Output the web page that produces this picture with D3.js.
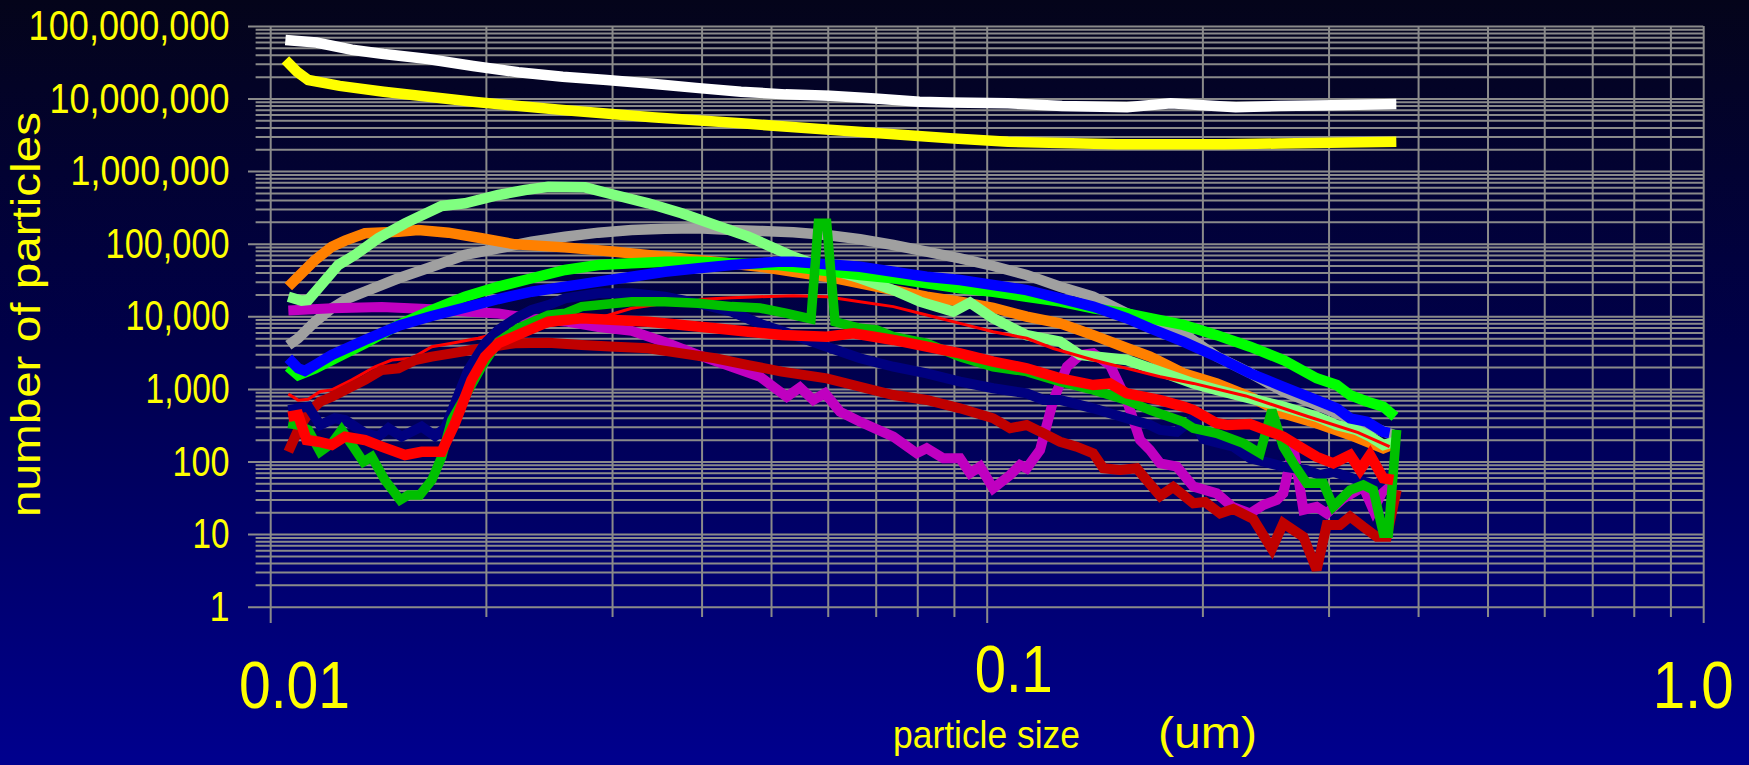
<!DOCTYPE html>
<html>
<head>
<meta charset="utf-8">
<script src="https://cdn.jsdelivr.net/npm/d3@7"></script>
<style>
  html, body { margin: 0; padding: 0; overflow: hidden; background: #000040; }
  svg { display: block; }
</style>
</head>
<body>
<svg id="chart" width="1749" height="765"></svg>
<script>
// ---- axis ticks and labels ----
const yTickValues = [1, 10, 100, 1000, 1e4, 1e5, 1e6, 1e7, 1e8];
const yTickLabels = ["1", "10", "100", "1,000", "10,000", "100,000", "1,000,000", "10,000,000", "100,000,000"];
const xTickValues = [0.01, 0.1, 1];
const xTickLabels = ["0.01", "0.1", "1.0"];

// ---- particle size distributions: [size (um), number of particles] ----
const white = [[0.0105,6.4e7],[0.0116,5.9e7],[0.0130,4.7e7],[0.0144,4.1e7],[0.0166,3.5e7],[0.0192,2.8e7],[0.0222,2.3e7],[0.0256,2.0e7],[0.0295,1.8e7],[0.0341,1.6e7],[0.0393,1.4e7],[0.0454,1.24e7],[0.0524,1.14e7],[0.0604,1.09e7],[0.0698,1.0e7],[0.0806,9.0e6],[0.0889,8.8e6],[0.1071,8.6e6],[0.1274,7.9e6],[0.157,7.6e6],[0.1806,8.6e6],[0.2226,7.6e6],[0.2559,7.9e6],[0.3043,8.1e6],[0.373,8.4e6]];

const yellow = [[0.0105,3.4e7],[0.0109,2.34e7],[0.0113,1.8e7],[0.0125,1.49e7],[0.0144,1.24e7],[0.0192,9.0e6],[0.0256,6.95e6],[0.0341,5.5e6],[0.0454,4.55e6],[0.0604,3.7e6],[0.0889,2.83e6],[0.1071,2.54e6],[0.1518,2.34e6],[0.2149,2.34e6],[0.2559,2.4e6],[0.373,2.54e6]];

const gray = [[0.0106,4.0e3],[0.01094,5.0e3],[0.01155,8.4e3],[0.01219,1.29e4],[0.01285,1.77e4],[0.01356,2.18e4],[0.0151,3.34e4],[0.01681,4.82e4],[0.0187,7.0e4],[0.02082,8.6e4],[0.02317,1.07e5],[0.02579,1.25e5],[0.02871,1.42e5],[0.03195,1.54e5],[0.03556,1.61e5],[0.03958,1.63e5],[0.04406,1.54e5],[0.04826,1.5e5],[0.05372,1.44e5],[0.0598,1.32e5],[0.06657,1.15e5],[0.07408,9.6e4],[0.08246,7.76e4],[0.09177,6.29e4],[0.1021,4.93e4],[0.1137,3.71e4],[0.1266,2.56e4],[0.1408,1.86e4],[0.1568,1.1e4],[0.1746,7.6e3],[0.1881,5.8e3],[0.2094,2.8e3],[0.2331,1.66e3],[0.2594,9.2e2],[0.2887,6.0e2],[0.308,4.6e2],[0.3392,3.18e2],[0.37,2.32e2]];

const orange = [[0.0106,2.56e4],[0.01094,3.5e4],[0.01155,5.96e4],[0.01219,9.1e4],[0.01272,1.1e5],[0.01356,1.39e5],[0.0151,1.46e5],[0.0161,1.54e5],[0.01773,1.42e5],[0.01973,1.19e5],[0.02196,9.8e4],[0.02579,8.9e4],[0.03028,7.76e4],[0.03556,6.62e4],[0.04177,5.65e4],[0.04826,4.82e4],[0.05372,4.11e4],[0.0598,3.51e4],[0.06657,2.85e4],[0.07408,2.3e4],[0.08246,1.86e4],[0.09177,1.59e4],[0.1021,1.31e4],[0.1137,9.9e3],[0.1266,8.0e3],[0.1408,5.5e3],[0.1568,3.66e3],[0.169,2.78e3],[0.1881,1.64e3],[0.2094,1.19e3],[0.2331,7.8e2],[0.2594,4.6e2],[0.2887,3.36e2],[0.3215,2.32e2],[0.3577,1.52e2],[0.3655,1.65e2]];

const lightGreen = [[0.0106,1.86e4],[0.01106,1.64e4],[0.0113,1.68e4],[0.01167,2.43e4],[0.01245,5.1e4],[0.01313,7.0e4],[0.01415,1.19e5],[0.01542,1.91e5],[0.01735,3.31e5],[0.0187,3.6e5],[0.02082,4.69e5],[0.02268,5.49e5],[0.02444,6.1e5],[0.0275,5.98e5],[0.03028,4.69e5],[0.03371,3.6e5],[0.03752,2.62e5],[0.04177,1.81e5],[0.04648,1.25e5],[0.05119,8.2e4],[0.05372,6.6e4],[0.0598,4.58e4],[0.06657,3.34e4],[0.07408,2.3e4],[0.0807,1.59e4],[0.08982,1.16e4],[0.09478,1.54e4],[0.1021,9.4e3],[0.1137,5.5e3],[0.1266,4.47e3],[0.135,2.93e3],[0.1568,2.5e3],[0.1746,1.73e3],[0.1943,1.19e3],[0.2094,9.7e2],[0.2331,7.4e2],[0.2594,5.7e2],[0.2887,4.14e2],[0.308,3.18e2],[0.3284,2.72e2],[0.3428,2.2e2],[0.3577,1.69e2],[0.3714,1.87e2]];

const brightGreen = [[0.0106,2.02e3],[0.01094,1.55e3],[0.01155,1.92e3],[0.01219,2.5e3],[0.01356,4.25e3],[0.0151,7.6e3],[0.01681,1.22e4],[0.0187,1.86e4],[0.02082,2.56e4],[0.02317,3.34e4],[0.02579,4.34e4],[0.02871,5.09e4],[0.03195,5.37e4],[0.03556,5.65e4],[0.03958,5.65e4],[0.04406,5.37e4],[0.05119,5.09e4],[0.06657,3.71e4],[0.07408,3.34e4],[0.08246,2.85e4],[0.09177,2.43e4],[0.1021,2.18e4],[0.1137,1.86e4],[0.1266,1.59e4],[0.1408,1.29e4],[0.1568,1.1e4],[0.169,9.4e3],[0.1881,7.6e3],[0.2094,5.5e3],[0.2331,3.81e3],[0.2594,2.5e3],[0.2887,1.4e3],[0.308,1.13e3],[0.3215,8.2e2],[0.3392,6.7e2],[0.3577,5.7e2],[0.3714,4.14e2]];

const blue = [[0.0106,2.64e3],[0.01094,1.92e3],[0.01118,1.77e3],[0.01155,2.13e3],[0.01219,2.93e3],[0.01356,4.72e3],[0.0151,7.4e3],[0.01681,1.01e4],[0.0187,1.32e4],[0.02082,1.73e4],[0.02317,2.18e4],[0.02579,2.56e4],[0.02871,3.0e4],[0.03195,3.51e4],[0.03556,4.11e4],[0.03958,4.58e4],[0.04406,5.09e4],[0.05119,5.65e4],[0.05372,5.65e4],[0.0598,5.2e4],[0.06657,4.82e4],[0.07408,4.11e4],[0.08246,3.51e4],[0.09177,3.16e4],[0.1021,2.7e4],[0.1137,2.3e4],[0.1266,1.77e4],[0.1408,1.36e4],[0.1568,9.4e3],[0.169,6.84e3],[0.1881,4.47e3],[0.2094,2.78e3],[0.2331,1.64e3],[0.2594,1.07e3],[0.2887,7.0e2],[0.308,5.4e2],[0.3215,3.94e2],[0.3392,3.53e2],[0.3577,2.57e2],[0.365,2.47e2]];

const magenta = [[0.0106,1.2e4],[0.01219,1.29e4],[0.01431,1.34e4],[0.01681,1.25e4],[0.0187,1.16e4],[0.02082,1.09e4],[0.02317,9.4e3],[0.02579,8.5e3],[0.02871,7.1e3],[0.03195,6.3e3],[0.03556,4.4e3],[0.03958,2.93e3],[0.04406,2.02e3],[0.04826,1.47e3],[0.05037,1.07e3],[0.05259,7.8e2],[0.05487,1.05e3],[0.05728,7.0e2],[0.05947,8.7e2],[0.06242,4.85e2],[0.06657,3.53e2],[0.07408,2.2e2],[0.07985,1.3e2],[0.08246,1.52e2],[0.08697,1.11e2],[0.09177,1.11e2],[0.09478,6.9e1],[0.0979,8.5e1],[0.1021,4.27e1],[0.1078,6.5e1],[0.1113,8.95e1],[0.1137,8.06e1],[0.1187,1.44e2],[0.1239,7.0e2],[0.1294,2.02e3],[0.135,2.93e3],[0.1408,3.09e3],[0.1486,2.13e3],[0.1568,7.0e2],[0.1637,1.98e2],[0.169,1.44e2],[0.1746,9.45e1],[0.1842,8.5e1],[0.1943,4.5e1],[0.2094,3.64e1],[0.2204,2.36e1],[0.2331,1.93e1],[0.2432,2.52e1],[0.254,2.95e1],[0.2594,3.64e1],[0.2679,1.6e2],[0.2767,2.15e1],[0.2887,2.38e1],[0.2982,1.93e1],[0.3146,3.11e1],[0.3354,4.5e1],[0.3464,2.15e1],[0.3577,4.05e1],[0.3714,4.05e1]];

const thinRed = [[0.0106,8.5e2],[0.01094,7.0e2],[0.0113,7.2e2],[0.01174,9.2e2],[0.01219,9.7e2],[0.013,1.33e3],[0.014,2.02e3],[0.01478,2.5e3],[0.01576,2.64e3],[0.01681,3.81e3],[0.01792,4.25e3],[0.01951,4.98e3],[0.02082,5.83e3],[0.02871,9.4e3],[0.03195,1.29e4],[0.03556,1.51e4],[0.03958,1.71e4],[0.04406,1.8e4],[0.04826,1.86e4],[0.05372,1.92e4],[0.0598,1.86e4],[0.06657,1.59e4],[0.07408,1.36e4],[0.08246,1.04e4],[0.09177,8.0e3],[0.1021,6.13e3],[0.1137,4.98e3],[0.1239,3.6e3],[0.1408,2.5e3],[0.1568,1.92e3],[0.1746,1.47e3],[0.1943,1.19e3],[0.23,8.0e2],[0.28,4.2e2],[0.33,2.5e2],[0.365,1.6e2]];

const darkRed = [[0.0106,1.36e2],[0.01094,2.72e2],[0.0113,4.61e2],[0.01174,6.67e2],[0.01219,7.8e2],[0.01285,1.02e3],[0.01356,1.33e3],[0.01431,1.82e3],[0.0151,1.92e3],[0.01593,2.5e3],[0.01681,2.78e3],[0.01792,3.09e3],[0.0191,3.43e3],[0.02038,3.81e3],[0.02196,4.25e3],[0.02444,4.33e3],[0.02721,4.02e3],[0.03028,3.81e3],[0.03371,3.62e3],[0.03752,3.09e3],[0.04177,2.64e3],[0.04648,2.13e3],[0.05174,1.73e3],[0.0598,1.4e3],[0.06657,1.07e3],[0.07408,8.24e2],[0.08246,7.03e2],[0.09177,5.4e2],[0.1021,3.94e2],[0.1078,2.87e2],[0.1137,3.18e2],[0.12,2.45e2],[0.1266,1.87e2],[0.1335,1.6e2],[0.1408,1.3e2],[0.1455,8.06e1],[0.1535,7.64e1],[0.1619,8.06e1],[0.1746,3.35e1],[0.1821,4.45e1],[0.1943,2.66e1],[0.2017,2.77e1],[0.2117,1.93e1],[0.2209,2.22e1],[0.2356,1.61e1],[0.25,6.23],[0.2594,1.41e1],[0.2767,9.2],[0.2887,3.2],[0.2982,1.33e1],[0.3111,1.33e1],[0.3215,1.74e1],[0.3354,1.26e1],[0.3502,9.2],[0.3617,9.2],[0.3734,4.05e1]];

const navy = [[0.0106,5.1e2],[0.01094,5.4e2],[0.0113,5.7e2],[0.01174,3.18e2],[0.01231,3.94e2],[0.01272,3.73e2],[0.01356,2.45e2],[0.01415,2.2e2],[0.01462,2.87e2],[0.01526,2.2e2],[0.01627,3.02e2],[0.01698,2.24e2],[0.01754,2.87e2],[0.01811,6.33e2],[0.0189,1.82e3],[0.01994,4.25e3],[0.02082,6.48e3],[0.0222,9.87e3],[0.02317,1.22e4],[0.02444,1.43e4],[0.02579,1.77e4],[0.02871,2.07e4],[0.03195,2.07e4],[0.03556,1.86e4],[0.03958,1.51e4],[0.04406,1.16e4],[0.04826,7.9e3],[0.05372,5.53e3],[0.0598,3.81e3],[0.06657,2.64e3],[0.07408,2.02e3],[0.08246,1.64e3],[0.09177,1.26e3],[0.1021,1.02e3],[0.1137,8.7e2],[0.12,7.03e2],[0.1266,7.03e2],[0.1408,5.4e2],[0.1568,3.94e2],[0.169,3.18e2],[0.1746,2.72e2],[0.1842,2.57e2],[0.1943,3.94e2],[0.2006,2.04e2],[0.2209,1.6e2],[0.2331,1.11e2],[0.2594,8.5e1],[0.2797,7.6e1],[0.2919,6.5e1],[0.3046,7.2e1],[0.3284,5.6e1],[0.3502,4.75e1],[0.3655,6.9e1]];

const darkGreen = [[0.0106,3.36e2],[0.01094,3.18e2],[0.0113,2.72e2],[0.01174,1.36e2],[0.01219,1.78e2],[0.01258,2.72e2],[0.01306,1.6e2],[0.01349,9.9e1],[0.01386,1.16e2],[0.01446,5.56e1],[0.01518,2.95e1],[0.01559,3.46e1],[0.01618,3.46e1],[0.01681,5.56e1],[0.01735,1.16e2],[0.01792,3.73e2],[0.0187,7.8e2],[0.01973,2.02e3],[0.02082,4.47e3],[0.0222,6.84e3],[0.02444,1.04e4],[0.02579,1.1e4],[0.02721,1.36e4],[0.02871,1.43e4],[0.03195,1.59e4],[0.03556,1.59e4],[0.03958,1.51e4],[0.04406,1.36e4],[0.04826,1.3e4],[0.05259,1.1e4],[0.05685,9.2e3],[0.05821,1.91e5],[0.0598,1.91e5],[0.06142,8.4e3],[0.06657,6.84e3],[0.07022,6.48e3],[0.07408,5.23e3],[0.08246,4.25e3],[0.09177,2.78e3],[0.1021,2.02e3],[0.1137,1.73e3],[0.1266,1.26e3],[0.1408,9.7e2],[0.1568,7.0e2],[0.169,5.1e2],[0.1881,3.53e2],[0.1943,2.87e2],[0.2094,2.45e2],[0.2282,1.78e2],[0.2407,1.3e2],[0.25,5.1e2],[0.2594,1.6e2],[0.2679,9.45e1],[0.2797,5.0e1],[0.295,5.0e1],[0.3046,2.38e1],[0.3215,4.05e1],[0.3354,4.75e1],[0.3464,4.05e1],[0.3577,1.03e1],[0.3636,1.03e1],[0.3734,2.72e2]];

const red = [[0.0106,4.14e2],[0.01094,4.37e2],[0.01124,1.98e2],[0.01167,1.87e2],[0.01219,1.69e2],[0.01272,2.2e2],[0.01356,1.98e2],[0.01431,1.6e2],[0.01542,1.23e2],[0.01627,1.36e2],[0.01735,1.36e2],[0.01811,3.36e2],[0.0191,1.33e3],[0.01994,2.78e3],[0.02082,4.25e3],[0.02268,6.13e3],[0.02444,8.43e3],[0.02721,9.38e3],[0.03028,8.89e3],[0.03371,8.43e3],[0.03752,7.59e3],[0.04177,6.84e3],[0.04648,6.13e3],[0.05174,5.53e3],[0.0598,5.23e3],[0.06514,5.83e3],[0.07408,4.72e3],[0.08246,3.81e3],[0.09177,3.09e3],[0.1021,2.37e3],[0.1137,1.92e3],[0.1266,1.4e3],[0.1408,1.13e3],[0.1486,1.19e3],[0.1568,8.7e2],[0.1746,7.0e2],[0.1881,5.7e2],[0.1943,5.1e2],[0.2094,3.36e2],[0.2163,3.18e2],[0.2331,3.28e2],[0.2594,2.2e2],[0.2709,1.69e2],[0.2887,1.16e2],[0.3046,9.45e1],[0.3215,1.23e2],[0.3319,7.64e1],[0.3428,1.23e2],[0.3577,5.87e1],[0.3694,5.56e1]];

// drawing order: later entries are painted on top
const seriesList = [
  { data: white,       color: "#ffffff", width: 10.5 },
  { data: yellow,      color: "#ffff00", width: 10.5 },
  { data: gray,        color: "#a0a0a0", width: 10.5 },
  { data: orange,      color: "#ff8000", width: 10.5 },
  { data: magenta,     color: "#c000c0", width: 10 },
  { data: lightGreen,  color: "#80ff80", width: 10.5 },
  { data: brightGreen, color: "#00ff00", width: 10.5 },
  { data: blue,        color: "#0000ff", width: 10.5 },
  { data: thinRed,     color: "#ff0000", width: 3 },
  { data: darkRed,     color: "#c00000", width: 10 },
  { data: navy,        color: "#000080", width: 10 },
  { data: darkGreen,   color: "#00c000", width: 9.5 },
  { data: red,         color: "#ff0000", width: 10.5 }
];

// ---- layout ----
const W = 1749, H = 765;
const plot = { left: 270.2, right: 1703.2, top: 25.9, bottom: 606.7 };

const x = d3.scaleLog().domain([0.01, 1]).range([plot.left, plot.right]);
const y = d3.scaleLog().domain([1, 1e8]).range([plot.bottom, plot.top]);

const svg = d3.select("#chart");

// background: dark navy fading to blue
const defs = svg.append("defs");
const grad = defs.append("linearGradient")
  .attr("id", "bg").attr("x1", 0).attr("y1", 0).attr("x2", 0).attr("y2", 1);
grad.append("stop").attr("offset", "0%").attr("stop-color", "#04041a");
grad.append("stop").attr("offset", "45%").attr("stop-color", "#00004a");
grad.append("stop").attr("offset", "100%").attr("stop-color", "#00008e");
svg.append("rect").attr("width", W).attr("height", H).attr("fill", "url(#bg)");

// log-decade minor ticks (2..9 in every decade)
const minorY = [], majorY = yTickValues;
for (let d = 0; d < 8; d++) for (let m = 2; m <= 9; m++) minorY.push(m * Math.pow(10, d));
const minorX = [], majorX = xTickValues;
for (const base of [0.01, 0.1]) for (let m = 2; m <= 9; m++) minorX.push(+(m * base).toFixed(3));

const gridColor = "#8a8a8a";
function styleGrid(g) {
  g.select(".domain").remove();
  g.selectAll(".tick line").attr("stroke", gridColor).attr("stroke-width", 2);
  g.selectAll(".tick text").remove();
}

// horizontal grid lines, extending left past the plot as tick marks
svg.append("g")
  .attr("transform", `translate(${plot.right},0)`)
  .call(d3.axisRight(y).tickValues(minorY).tickFormat("").tickSize(-(plot.right - 255.6)))
  .call(styleGrid);
svg.append("g")
  .attr("transform", `translate(${plot.right},0)`)
  .call(d3.axisRight(y).tickValues(majorY).tickFormat("").tickSize(-(plot.right - 248)))
  .call(styleGrid);

// vertical grid lines, extending below the plot as tick marks
svg.append("g")
  .attr("transform", `translate(0,${plot.top})`)
  .call(d3.axisTop(x).tickValues(minorX).tickFormat("").tickSize(-(617 - plot.top)))
  .call(styleGrid);
svg.append("g")
  .attr("transform", `translate(0,${plot.top})`)
  .call(d3.axisTop(x).tickValues(majorX).tickFormat("").tickSize(-(623 - plot.top)))
  .call(styleGrid);

// data lines
const line = d3.line().x(d => x(d[0])).y(d => y(d[1]));
svg.append("g").selectAll("path")
  .data(seriesList)
  .join("path")
  .attr("d", s => line(s.data))
  .attr("fill", "none")
  .attr("stroke", s => s.color)
  .attr("stroke-width", s => s.width)
  .attr("stroke-linejoin", "miter")
  .attr("stroke-miterlimit", 3)
  .attr("stroke-linecap", "butt");

// ---- text ----
const font = "'Liberation Sans', Arial, sans-serif";
const yellowText = "#ffff00";

// y tick labels
const yLabelWidths = { "1": 20, "10": 37, "100": 57, "1,000": 84, "10,000": 104, "100,000": 124, "1,000,000": 159, "10,000,000": 180, "100,000,000": 201 };
svg.append("g").selectAll("text")
  .data(yTickValues)
  .join("text")
  .attr("x", 229.6)
  .attr("y", d => y(d) + 14)
  .attr("text-anchor", "end")
  .attr("font-family", font)
  .attr("font-size", 42)
  .attr("fill", yellowText)
  .attr("textLength", (d, i) => yLabelWidths[yTickLabels[i]])
  .attr("lengthAdjust", "spacingAndGlyphs")
  .text((d, i) => yTickLabels[i]);

// x tick labels
const xLabelPos = [
  { dx: 24.3, baseline: 708, width: 111 },
  { dx: 27, baseline: 692, width: 78 },
  { dx: -10, baseline: 708, width: 81 }
];
svg.append("g").selectAll("text")
  .data(xTickValues)
  .join("text")
  .attr("x", (d, i) => x(d) + xLabelPos[i].dx)
  .attr("y", (d, i) => xLabelPos[i].baseline)
  .attr("text-anchor", "middle")
  .attr("font-family", font)
  .attr("font-size", 66)
  .attr("fill", yellowText)
  .attr("textLength", (d, i) => xLabelPos[i].width)
  .attr("lengthAdjust", "spacingAndGlyphs")
  .text((d, i) => xTickLabels[i]);

// axis titles
svg.append("text")
  .attr("x", 893).attr("y", 748)
  .attr("font-family", font).attr("font-size", 39)
  .attr("fill", yellowText)
  .attr("textLength", 187).attr("lengthAdjust", "spacingAndGlyphs")
  .text("particle size");
svg.append("text")
  .attr("x", 1158).attr("y", 748)
  .attr("font-family", font).attr("font-size", 44)
  .attr("fill", yellowText)
  .attr("textLength", 99).attr("lengthAdjust", "spacingAndGlyphs")
  .text("(um)");
svg.append("text")
  .attr("transform", "translate(40,314.5) rotate(-90)")
  .attr("text-anchor", "middle")
  .attr("font-family", font).attr("font-size", 40)
  .attr("fill", yellowText)
  .attr("textLength", 405).attr("lengthAdjust", "spacingAndGlyphs")
  .text("number of particles");
</script>
</body>
</html>
